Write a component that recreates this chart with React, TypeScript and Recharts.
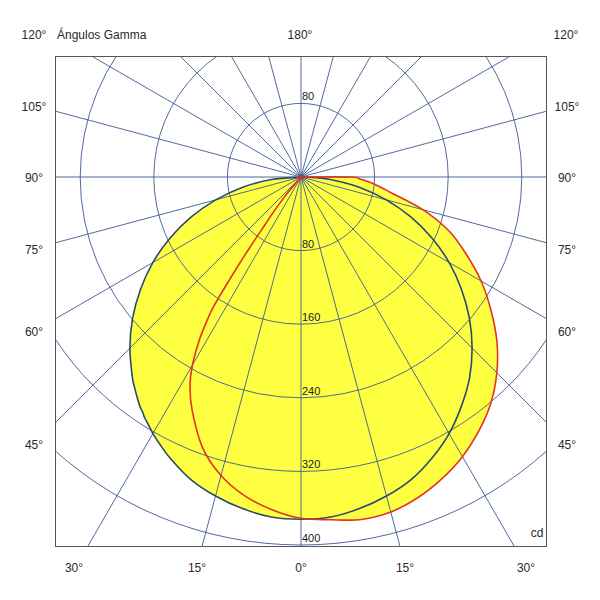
import React from 'react';
import { RadarChart, Radar, PolarGrid, PolarAngleAxis, PolarRadiusAxis } from 'recharts';

// Right half of the diagram (gamma measured from nadir)
const gammaRight = [0, 5, 10, 15, 20, 25, 30, 35, 40, 45, 50, 55, 60, 65, 70, 75, 80, 85, 88, 90];
const planeC0Right = [372, 371, 366, 359, 350, 337, 322, 304, 285, 263, 239, 213, 186, 157, 127, 96, 65, 32, 13, 0];
const planeC90Right = [371, 374, 378, 377, 371, 362, 351, 337, 321, 301, 278, 252, 226, 198, 171, 137, 100, 78, 64, 55];

// Left half of the diagram
const gammaLeft = [5, 10, 15, 20, 25, 28, 30, 32, 33, 34, 35, 36, 37, 38, 40, 45, 50, 55, 60, 65, 70, 75, 80, 85, 90];
const planeC0Left = [371, 366, 359, 350, 337, 328, 322, 315, 312, 308, 305, 301, 297, 293, 285, 263, 239, 213, 186, 157, 127, 96, 65, 32, 0];
const planeC90Left = [363, 352, 336, 313, 280, 257, 236, 208, 190, 170, 130, 95, 65, 50, 25, 0, 0, 0, 0, 0, 0, 0, 0, 0, 0];

const radialTicks = [80, 160, 240, 320, 400];
const upperTicks = [80];
const gridAngles = [0, 15, 30, 45, 60, 75, 90, 105, 120, 135, 150, 165, 180, 195, 210, 225, 240, 255, 270, 285, 300, 315, 330, 345];

const topLabels = ['120°', 'Ángulos Gamma', '180°', '120°'];
const sideLabels = ['105°', '90°', '75°', '60°', '45°'];
const bottomLabels = ['30°', '15°', '0°', '15°', '30°'];
const unitLabel = 'cd';

const data = [
  ...gammaRight.map((g, i) => ({ angle: g, c0: planeC0Right[i], c90: planeC90Right[i] })),
  ...gammaLeft.map((g, i) => ({ angle: 360 - g, c0: planeC0Left[i], c90: planeC90Left[i] })),
].sort((a, b) => a.angle - b.angle);

const FONT = '"Liberation Sans", Arial, sans-serif';
const YELLOW = '#ffff42';
const GRID = '#3d5a96';

const topPos = [{ x: 34, y: 35, a: 'c' }, { x: 57, y: 35, a: 'l' }, { x: 300, y: 35, a: 'c' }, { x: 566, y: 35, a: 'c' }];
const sideY = [107, 178, 250, 332, 445];
const bottomX = [74, 197, 301, 405, 526];

function smoothPath(pts: { x: number; y: number }[]) {
  const n = pts.length;
  if (!n) return '';
  let d = `M${pts[0].x},${pts[0].y}`;
  for (let i = 0; i < n; i++) {
    const p0 = pts[(i - 1 + n) % n];
    const p1 = pts[i];
    const p2 = pts[(i + 1) % n];
    const p3 = pts[(i + 2) % n];
    const c1x = p1.x + (p2.x - p0.x) / 6;
    const c1y = p1.y + (p2.y - p0.y) / 6;
    const c2x = p2.x - (p3.x - p1.x) / 6;
    const c2y = p2.y - (p3.y - p1.y) / 6;
    d += ` C${c1x},${c1y} ${c2x},${c2y} ${p2.x},${p2.y}`;
  }
  return d + ' Z';
}

const smoothShape = (fill: string, stroke: string, strokeWidth: number) => (props: any) => (
  <path d={smoothPath(props.points || [])} fill={fill} stroke={stroke} strokeWidth={strokeWidth} strokeLinejoin="round" />
);

const RadiusTick = (props: any) => {
  const { x, y, payload } = props;
  return (
    <text x={x + 1} y={y - 3} fontSize={11} fill="#222" fontFamily={FONT} textAnchor="start">
      {payload.value}
    </text>
  );
};

const Label = ({ x, y, text, align = 'c' }: { x: number; y: number; text: string; align?: string }) => (
  <div
    style={{
      position: 'absolute',
      left: x,
      top: y,
      transform: align === 'c' ? 'translate(-50%, -50%)' : 'translate(0, -50%)',
      fontFamily: FONT,
      fontSize: 12,
      color: '#2a2a2a',
      whiteSpace: 'nowrap',
      lineHeight: 1,
    }}
  >
    {text}
  </div>
);

const chartProps = {
  width: 492,
  height: 491,
  data,
  cx: 246,
  cy: 121,
  outerRadius: 460,
  startAngle: -90,
  endAngle: 270,
  margin: { top: 0, right: 0, bottom: 0, left: 0 },
};

export default function App() {
  return (
    <div style={{ position: 'absolute', left: 0, top: 0, width: 600, height: 600, background: '#fff' }}>
      {/* fills */}
      <div style={{ position: 'absolute', left: 55, top: 56 }}>
        <RadarChart {...chartProps}>
          <PolarAngleAxis dataKey="angle" type="number" domain={[0, 360]} ticks={gridAngles} tick={false} axisLine={false} tickLine={false} />
          <PolarRadiusAxis type="number" domain={[0, 500]} ticks={upperTicks} angle={90} axisLine={false} tickLine={false} tick={<RadiusTick />} />
          <Radar dataKey="c90" shape={smoothShape(YELLOW, 'none', 0)} isAnimationActive={false} />
          <Radar dataKey="c0" shape={smoothShape(YELLOW, 'none', 0)} isAnimationActive={false} />
        </RadarChart>
      </div>
      {/* grid and outlines */}
      <div style={{ position: 'absolute', left: 55, top: 56 }}>
        <RadarChart {...chartProps}>
          <PolarAngleAxis dataKey="angle" type="number" domain={[0, 360]} ticks={gridAngles} tick={false} axisLine={false} tickLine={false} />
          <PolarRadiusAxis type="number" domain={[0, 500]} ticks={radialTicks} angle={-90} axisLine={false} tickLine={false} tick={<RadiusTick />} />
          <PolarGrid gridType="circle" stroke={GRID} strokeWidth={1} strokeOpacity={0.9} />
          <Radar dataKey="c0" shape={smoothShape('none', '#2c4a6a', 1.6)} isAnimationActive={false} />
          <Radar dataKey="c90" shape={smoothShape('none', '#e3341c', 1.6)} isAnimationActive={false} />
        </RadarChart>
      </div>
      <div style={{ position: 'absolute', left: 55, top: 56, width: 492, height: 491, boxSizing: 'border-box', border: '1px solid #555' }} />
      {topLabels.map((t, i) => (
        <Label key={'t' + i} x={topPos[i].x} y={topPos[i].y} text={t} align={topPos[i].a} />
      ))}
      {sideLabels.map((t, i) => (
        <Label key={'l' + i} x={34} y={sideY[i]} text={t} />
      ))}
      {sideLabels.map((t, i) => (
        <Label key={'r' + i} x={567} y={sideY[i]} text={t} />
      ))}
      {bottomLabels.map((t, i) => (
        <Label key={'b' + i} x={bottomX[i]} y={568} text={t} />
      ))}
      <Label x={537} y={533} text={unitLabel} />
    </div>
  );
}
